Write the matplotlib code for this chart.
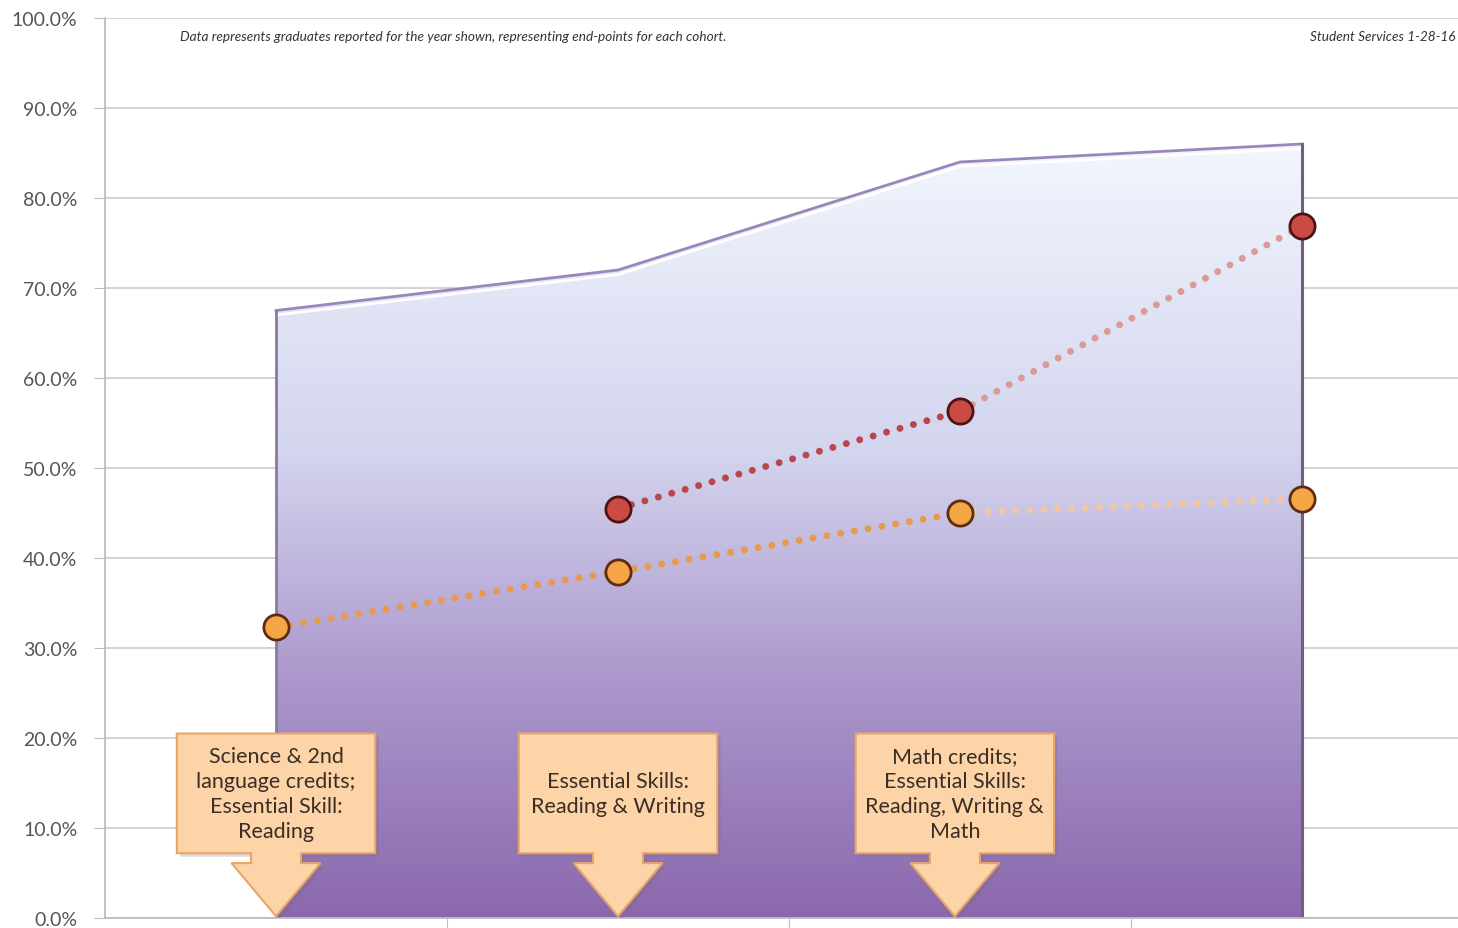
import numpy as np
import matplotlib.pyplot as plt
from matplotlib.patches import Polygon
from matplotlib.colors import LinearSegmentedColormap
from matplotlib.ticker import FuncFormatter

plt.rcParams['font.family'] = ['Lato', 'DejaVu Sans']

# data
cohorts = ['Cohort 1', 'Cohort 2', 'Cohort 3', 'Cohort 4']
total_grad = [67.5, 72.0, 84.0, 86.0]          # shaded area
red_x = [1, 2, 3]
red_vals = [45.5, 56.3, 76.9]
orange_x = [0, 1, 2, 3]
orange_vals = [32.3, 38.5, 45.0, 46.6]
callout_x = [0, 1, 1.985]
callout_text = ['Science & 2nd\nlanguage credits;\nEssential Skill:\nReading',
                'Essential Skills:\nReading & Writing',
                'Math credits;\nEssential Skills:\nReading, Writing &\nMath']
yticks = np.arange(0, 101, 10)

W, H = 1458, 929
fig = plt.figure(figsize=(W / 100, H / 100), dpi=100)
ax = fig.add_axes([105 / W, 10 / H, 1368 / W, 900 / H])   # goes slightly past the right edge
ax.set_xlim(-0.5, 3.5)
ax.set_ylim(0, 100)

# grid and axes
for y in yticks:
    ax.axhline(y, color='#cfcfcf', lw=1.3, zorder=0)
ax.set_yticks(yticks)
ax.yaxis.set_major_formatter(FuncFormatter(lambda v, p: f'{v:.1f}%'))
ax.tick_params(axis='y', length=8, color='#bdbdbd', labelsize=14, labelcolor='#555555', pad=12)
ax.set_xticks([0.5, 1.5, 2.5])
ax.set_xticklabels([])
ax.tick_params(axis='x', length=8, color='#bdbdbd', direction='out')
for s in ['top', 'right']:
    ax.spines[s].set_visible(False)
ax.spines['left'].set_color('#bdbdbd')
ax.spines['bottom'].set_color('#bdbdbd')
ax.spines['left'].set_linewidth(1.3)
ax.spines['bottom'].set_linewidth(1.3)

# gradient area
xs = np.arange(len(total_grad))
verts = [(0, 0)] + list(zip(xs, total_grad)) + [(xs[-1], 0)]
area = Polygon(verts, closed=True, facecolor='none', edgecolor='none')
ax.add_patch(area)
cmap = LinearSegmentedColormap.from_list('grad', [(0.0, '#8a68ad'), (0.3, '#ab96cb'),
                                                  (0.6, '#d3d4ee'), (1.0, '#f2f6fd')])
grad = np.linspace(0, 1, 256).reshape(-1, 1)
img = ax.imshow(grad, extent=[0, 3, 0, max(total_grad)], origin='lower', aspect='auto',
                cmap=cmap, zorder=1)
img.set_clip_path(area)
ax.plot(xs, np.array(total_grad) - 0.5, color='white', lw=2, zorder=2)
ax.plot(xs, total_grad, color='#9a86bb', lw=2, zorder=2)
ax.plot([0, 0], [0, total_grad[0]], color='#8a7aa0', lw=2, zorder=2)
ax.plot([3, 3], [0, total_grad[-1]], color='#6e6080', lw=2.2, zorder=2)

# dotted trend lines
dot = (0, (0.01, 2.0))
ax.plot(orange_x[:3], orange_vals[:3], linestyle=dot, color='#e79a4c', lw=5,
        dash_capstyle='round', zorder=3)
ax.plot(orange_x[2:], orange_vals[2:], linestyle=dot, color='#f2c6a4', lw=5,
        dash_capstyle='round', zorder=3)
ax.plot(red_x[:2], red_vals[:2], linestyle=dot, color='#b8464a', lw=5,
        dash_capstyle='round', zorder=3)
ax.plot(red_x[1:], red_vals[1:], linestyle=dot, color='#dc9a96', lw=5,
        dash_capstyle='round', zorder=3)
ax.scatter(orange_x, orange_vals, s=330, color='#f4a546', edgecolor='#5e2c12', linewidth=2, zorder=5)
ax.scatter(red_x, red_vals, s=330, color='#cc4a44', edgecolor='#4e1414', linewidth=2, zorder=5)

# callout boxes with down arrows
bw, sw, hw = 0.29, 0.073, 0.13
btop, bbot, htop, tip = 20.5, 7.2, 6.1, 0.2
for cx, txt in zip(callout_x, callout_text):
    shape = [(cx - bw, btop), (cx + bw, btop), (cx + bw, bbot), (cx + sw, bbot),
             (cx + sw, htop), (cx + hw, htop), (cx, tip), (cx - hw, htop),
             (cx - sw, htop), (cx - sw, bbot), (cx - bw, bbot)]
    shadow = [(x + 0.01, y - 0.4) for x, y in shape]
    ax.add_patch(Polygon(shadow, closed=True, facecolor='#7a6a6a', alpha=0.25,
                         edgecolor='none', zorder=6))
    ax.add_patch(Polygon(shape, closed=True, facecolor='#fdd3a8', edgecolor='#e6a66a',
                         lw=1.5, zorder=7))
    ax.text(cx, (btop + bbot) / 2, txt, ha='center', va='center', fontsize=15.5,
            color='#3a2e26', linespacing=1.3, zorder=8)

fig.text(180 / W, 1 - 37 / H, 'Data represents graduates reported for the year shown, '
         'representing end-points for each cohort.', fontsize=9.8, style='italic',
         color='#333333', va='center')
fig.text(1455 / W, 1 - 37 / H, 'Student Services 1-28-16', fontsize=9.8, style='italic',
         color='#333333', va='center', ha='right')

fig.savefig('out.png', dpi=100)
